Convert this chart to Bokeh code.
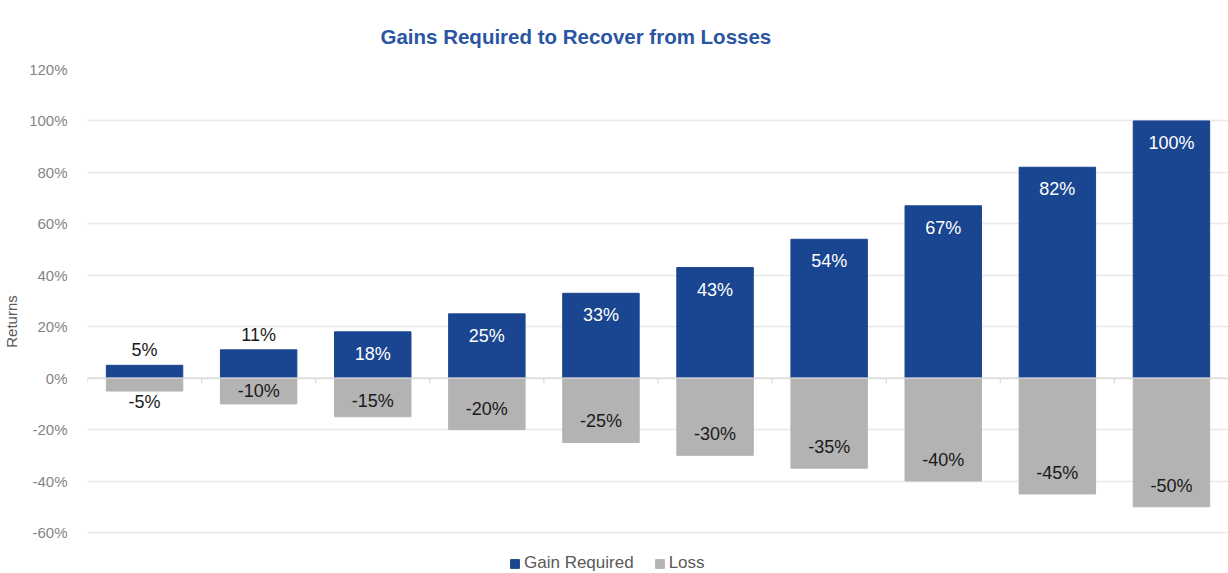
from bokeh.plotting import figure
from bokeh.models import (Legend, LegendItem, Span, FixedTicker, Range1d)
from bokeh.embed import file_html
from bokeh.resources import INLINE
from bokeh.core.properties import value

# ---------------- data ----------------
title_text = "Gains Required to Recover from Losses"
categories = ["5%", "10%", "15%", "20%", "25%", "30%", "35%", "40%", "45%", "50%"]
gain_required = [5, 11, 18, 25, 33, 43, 54, 67, 82, 100]
loss = [-5, -10, -15, -20, -25, -30, -35, -40, -45, -50]
y_ticks = [-60, -40, -20, 0, 20, 40, 60, 80, 100, 120]
y_tick_labels = ["-60%", "-40%", "-20%", "0%", "20%", "40%", "60%", "80%", "100%", "120%"]

# ---------------- style ----------------
FONT = "Liberation Sans"
BLUE = "#1A4590"
GRAY = "#B3B3B3"
W, H = 1228, 573
TOP, LEFT = 69, 86
PX = 463 / 180.0             # pixels per percentage point
Y1 = 120
Y0 = Y1 - (H - TOP) / PX      # extra room under -60% for the legend
N = len(categories)

xs = list(range(N))

p = figure(width=W, height=H, output_backend="svg", toolbar_location=None,
           x_range=Range1d(-0.5, N - 0.5), y_range=Range1d(Y0, Y1),
           min_border_left=LEFT, min_border_right=0, min_border_top=TOP,
           min_border_bottom=0)
p.outline_line_color = None

p.title.text = title_text
p.title.text_font = FONT
p.title.text_font_size = "20.5px"
p.title.text_font_style = "bold"
p.title.text_color = "#2A55A3"
p.title.align = "left"
p.title.offset = 293
p.title.standoff = 43

# grid
p.xgrid.visible = False
p.ygrid.ticker = FixedTicker(ticks=y_ticks)
p.ygrid.grid_line_color = "#E8E8E8"
p.ygrid.grid_line_width = 1.5

# axes
p.xaxis.visible = False
ya = p.yaxis[0]
ya.ticker = FixedTicker(ticks=y_ticks)
ya.major_label_overrides = {t: l for t, l in zip(y_ticks, y_tick_labels)}
ya.axis_line_color = None
ya.major_tick_line_color = None
ya.minor_tick_line_color = None
ya.major_label_text_font = FONT
ya.major_label_text_font_size = "15px"
ya.major_label_text_color = "#858585"
ya.major_label_standoff = 14
ya.axis_label = "Returns"
ya.axis_label_text_font = FONT
ya.axis_label_text_font_size = "15px"
ya.axis_label_text_font_style = "normal"
ya.axis_label_text_color = "#595959"
ya.axis_label_standoff = 6

# zero line with category boundary ticks
p.add_layout(Span(location=0, dimension="width", line_color="#D9D9D9", line_width=1.2))
bounds = [i - 0.5 for i in range(N + 1)]
p.segment(x0=bounds, x1=bounds, y0=[0] * len(bounds),
          y1=[-5 / PX] * len(bounds), line_color="#D9D9D9", line_width=1.2)

# bars
BW = 0.67
r_gain = p.vbar(x=xs, top=gain_required, bottom=0, width=BW, fill_color=BLUE,
                line_color=BLUE)
r_loss = p.vbar(x=xs, top=0, bottom=loss, width=BW, fill_color=GRAY, line_color=GRAY)

# labels for gains (inside near top if bar tall enough, else above)
g_in_x, g_in_y, g_in_t, g_out_x, g_out_y, g_out_t = [], [], [], [], [], []
for x, v in zip(xs, gain_required):
    h = v * PX
    if h < 35:
        g_out_x.append(x); g_out_y.append(v + 15 / PX); g_out_t.append(f"{v}%")
    else:
        g_in_x.append(x); g_in_y.append(v - 22 / PX); g_in_t.append(f"{v}%")
p.text(x=g_in_x, y=g_in_y, text=g_in_t, text_color="white",
       text_align="center", text_baseline="middle", text_font=value(FONT),
       text_font_size="18px")
p.text(x=g_out_x, y=g_out_y, text=g_out_t, text_color="#1A1A1A",
       text_align="center", text_baseline="middle", text_font=value(FONT),
       text_font_size="18px")

# labels for losses
l_y = []
for v in loss:
    h = -v * PX
    if h < 20:
        l_y.append(v - 11 / PX)
    elif h < 35:
        l_y.append(v / 2)
    else:
        l_y.append(v + min(21, h - 23) / PX)
p.text(x=xs, y=l_y, text=[f"{v}%" for v in loss], text_color="#1A1A1A",
       text_align="center", text_baseline="middle", text_font=value(FONT),
       text_font_size="18px")

legend = Legend(items=[LegendItem(label="Gain Required", renderers=[r_gain]),
                       LegendItem(label="Loss", renderers=[r_loss])],
                orientation="horizontal", location=(422, 0),
                label_text_font=FONT, label_text_font_size="17px",
                label_text_color="#595959", glyph_width=11, glyph_height=11,
                border_line_color=None, background_fill_alpha=0,
                spacing=20, padding=0, margin=0, label_standoff=4)
p.add_layout(legend)

open("out.html", "w").write(file_html(p, INLINE))
